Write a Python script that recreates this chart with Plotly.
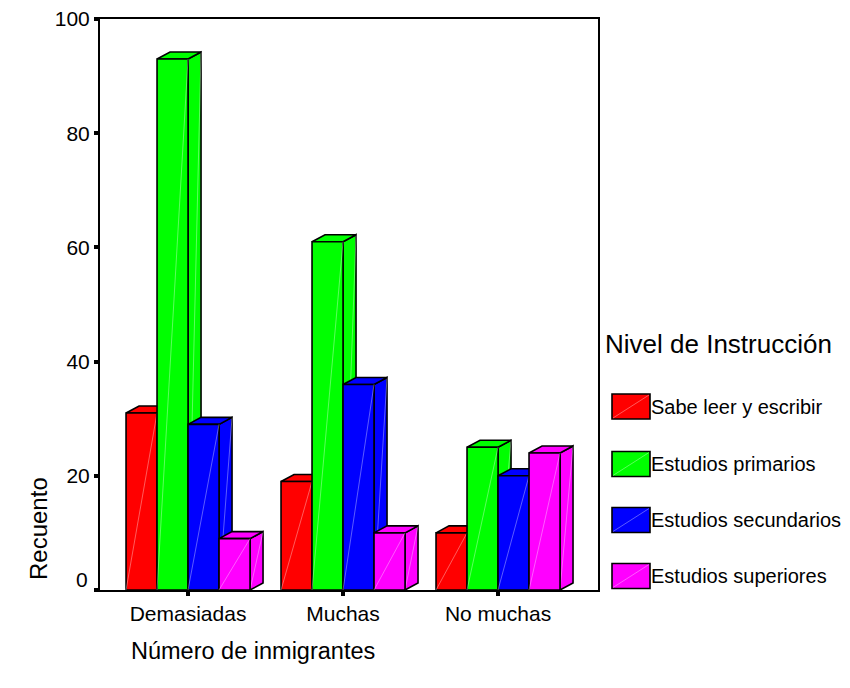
import plotly.graph_objects as go

# ---------------- data ----------------
categories = ["Demasiadas", "Muchas", "No muchas"]
series_names = ["Sabe leer y escribir", "Estudios primarios",
                "Estudios secundarios", "Estudios superiores"]
sabe_leer = [31, 19, 10]
primarios = [93, 61, 25]
secundarios = [29, 36, 20]
superiores = [9, 10, 24]
y_tick_vals = [0, 20, 40, 60, 80, 100]
y_tick_text = ["0", "20", "40", "60", "80", "100"]

series = [sabe_leer, primarios, secundarios, superiores]
colors = ["#FF0000", "#00FF00", "#0000FF", "#FF00FF"]

# ---------------- layout geometry ----------------
OFF = 8                      # page body margin
W, H = 850 - OFF, 688 - OFF  # figure size
# target plot box in page pixels: x 100..598, y 19..590
L, T = 100 - OFF, 19 - OFF
R, B = W - (598 - OFF), H - (590 - OFF)
PW, PH = W - L - R, H - T - B
x_range = [-0.568, 2.645]
y_range = [0, 100]
bar_w = 0.2
dx = 13 / PW * (x_range[1] - x_range[0])   # depth offset (data units)
dy = 7 / PH * (y_range[1] - y_range[0])

FONT = "Liberation Sans, Arial, sans-serif"


def px_x(px):
    return (px - OFF - L) / PW


def px_y(py):
    return (H - B - (py - OFF)) / PH


fig = go.Figure()


def poly(xs, ys, color):
    fig.add_trace(go.Scatter(
        x=xs + [xs[0]], y=ys + [ys[0]], mode="lines", fill="toself",
        fillcolor=color, line=dict(color="black", width=1.6),
        hoverinfo="skip", showlegend=False))


def diag(xs, ys):
    fig.add_trace(go.Scatter(
        x=xs, y=ys, mode="lines",
        line=dict(color="rgba(255,255,255,0.45)", width=0.8),
        hoverinfo="skip", showlegend=False))


n = len(series)
for i, cat in enumerate(categories):
    for j, vals in enumerate(series):
        v = vals[i]
        x0 = i - bar_w * n / 2 + bar_w * j
        x1 = x0 + bar_w
        c = colors[j]
        # side face
        poly([x1, x1 + dx, x1 + dx, x1], [0, dy, v + dy, v], c)
        diag([x1, x1 + dx], [0, v + dy])
        # top face
        poly([x0, x1, x1 + dx, x0 + dx], [v, v, v + dy, v + dy], c)
        # front face
        poly([x0, x1, x1, x0], [0, 0, v, v], c)
        diag([x0, x1], [0, v])

annotations = []
shapes = []

# raised "0" label as in the original
annotations.append(dict(x=px_x(90), y=px_y(579), xref="paper", yref="paper",
                        text=y_tick_text[0], showarrow=False, xanchor="right",
                        yanchor="middle", font=dict(family=FONT, size=21, color="black")))

# axis titles
annotations.append(dict(x=px_x(38), y=px_y(529), xref="paper", yref="paper",
                        text="Recuento", showarrow=False, textangle=-90,
                        xanchor="center", yanchor="middle",
                        font=dict(family=FONT, size=24, color="black")))
annotations.append(dict(x=px_x(129), y=px_y(651), xref="paper", yref="paper",
                        text="Número de inmigrantes", showarrow=False,
                        xanchor="left", yanchor="middle",
                        font=dict(family=FONT, size=23.5, color="black")))

# custom legend
annotations.append(dict(x=px_x(603), y=px_y(344), xref="paper", yref="paper",
                        text="Nivel de Instrucción", showarrow=False,
                        xanchor="left", yanchor="middle",
                        font=dict(family=FONT, size=26, color="black")))
item_centers = [406.5, 464, 520, 576]
for name, c, yc in zip(series_names, colors, item_centers):
    shapes.append(dict(type="rect", xref="paper", yref="paper",
                       x0=px_x(612), x1=px_x(650),
                       y0=px_y(yc + 12.5), y1=px_y(yc - 12.5),
                       fillcolor=c, line=dict(color="black", width=1.6)))
    shapes.append(dict(type="line", xref="paper", yref="paper",
                       x0=px_x(613), x1=px_x(649),
                       y0=px_y(yc + 11.5), y1=px_y(yc - 11.5),
                       line=dict(color="rgba(255,255,255,0.45)", width=0.8)))
    annotations.append(dict(x=px_x(649), y=px_y(yc), xref="paper", yref="paper",
                            text=name, showarrow=False, xanchor="left",
                            yanchor="middle",
                            font=dict(family=FONT, size=20, color="black")))

fig.update_layout(
    width=W, height=H,
    margin=dict(l=L, r=R, t=T, b=B, pad=0, autoexpand=False),
    paper_bgcolor="white", plot_bgcolor="white",
    showlegend=False,
    font=dict(family=FONT, size=21, color="black"),
    annotations=annotations, shapes=shapes,
    xaxis=dict(range=x_range, tickvals=list(range(len(categories))),
               ticktext=categories, showgrid=False, zeroline=False,
               showline=True, linecolor="black", linewidth=2, mirror=True,
               ticks="outside", ticklen=4, tickwidth=4, tickcolor="black",
               tickfont=dict(family=FONT, size=21, color="black"),
               automargin=False, ticklabeloverflow="allow", fixedrange=True),
    yaxis=dict(range=y_range, tickvals=y_tick_vals,
               ticktext=[""] + y_tick_text[1:], showgrid=False, zeroline=False,
               showline=True, linecolor="black", linewidth=2, mirror=True,
               ticks="outside", ticklen=4, tickwidth=4, tickcolor="black",
               tickfont=dict(family=FONT, size=21, color="black"),
               automargin=False, ticklabeloverflow="allow", fixedrange=True),
)

fig.write_html("out.html")
